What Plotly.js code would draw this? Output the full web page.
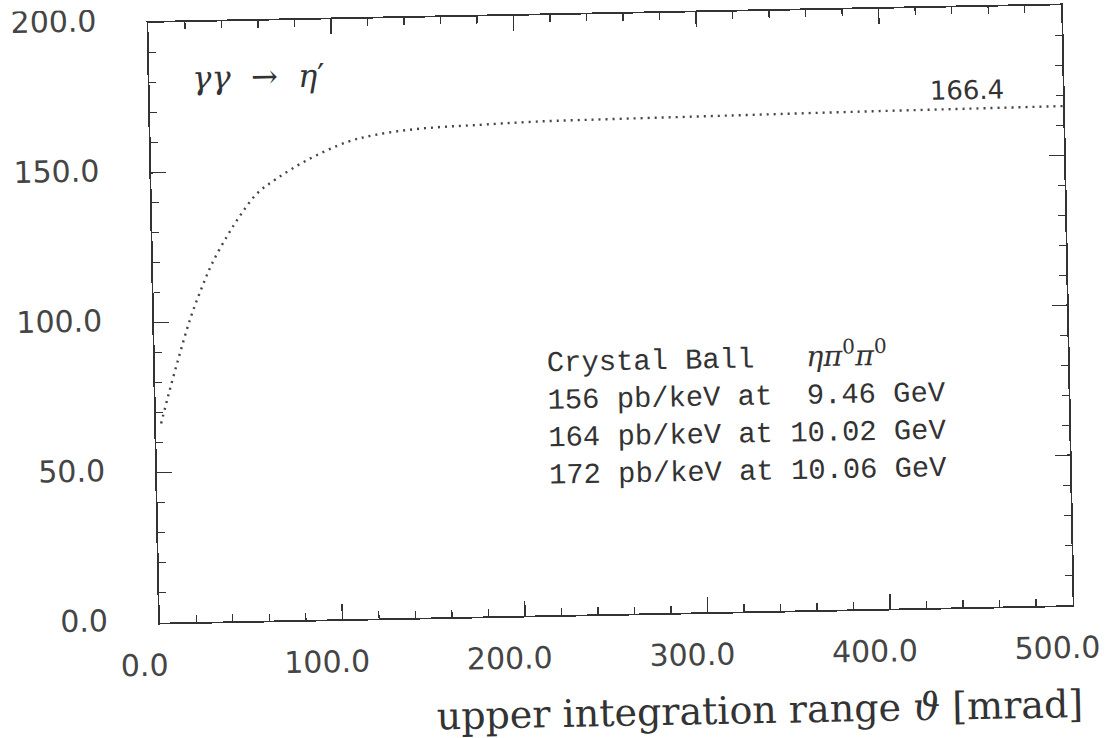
<!DOCTYPE html>
<html>
<head>
<meta charset="utf-8">
<script src="https://cdn.plot.ly/plotly-3.0.1.min.js"></script>
<style>
  html, body { margin: 0; padding: 0; background: #ffffff; }
  #chart {
    width: 1109px; height: 738px;
    transform: rotate(-1.1deg);
    transform-origin: 610.5px 313.75px;
  }
</style>
</head>
<body>
<div id="chart"></div>
<script>
// integrated cross section vs. upper integration range theta
const thetaMrad = [2.8, 7.3, 13.5, 19.9, 26.3, 32.4, 40.9, 48.4, 57.7, 68.8, 85.4,
                   107.5, 122.1, 140.4, 158.7, 177.0, 211.6, 260, 320, 380, 440, 500];
const sigmaIntegrated = [66.4, 76.3, 89.0, 101.2, 111.1, 119.4, 128.4, 135.3, 142.4, 147.3, 153.2,
                         159.0, 161.1, 162.6, 163.4, 163.8, 164.6, 165.0, 165.4, 165.8, 166.1, 166.4];
const finalValue = 166.4;

const xTickVals = [0, 100, 200, 300, 400, 500];
const xTickText = ["0.0", "100.0", "200.0", "300.0", "400.0", "500.0"];
const yTickVals = [0, 50, 100, 150, 200];
const yTickText = ["0.0", "50.0", "100.0", "150.0", "200.0"];

const reactionText = "<i>γγ</i>\u00a0\u00a0→\u00a0\u00a0<i>η</i>′";
const infoLines = [
  "Crystal\u00a0Ball\u00a0\u00a0\u00a0<span style=\"font-family:'DejaVu Serif'\"><i>ηπ</i><sup>0</sup><i>π</i><sup>0</sup></span>",
  "156\u00a0pb/keV\u00a0at\u00a0\u00a09.46\u00a0GeV",
  "164\u00a0pb/keV\u00a0at\u00a010.02\u00a0GeV",
  "172\u00a0pb/keV\u00a0at\u00a010.06\u00a0GeV"
];
const xTitle = "upper integration range <i>ϑ</i> [mrad]";

const ink = "#333333";
const tickFont = { family: "DejaVu Sans", size: 30, color: "#454545" };

const trace = {
  x: thetaMrad,
  y: sigmaIntegrated,
  mode: "lines",
  line: { color: "#444444", width: 2.4, dash: "2px,5px", shape: "spline", smoothing: 1 },
  hoverinfo: "skip"
};

const axisCommon = {
  showline: true, linecolor: ink, linewidth: 1.8,
  mirror: "allticks", ticks: "inside", tickcolor: ink, tickwidth: 1.5,
  showgrid: false, zeroline: false, tickfont: tickFont, ticklabeloverflow: "allow"
};

const annotations = [
  { x: 22.4, y: 181.3, xref: "x", yref: "y", xanchor: "left", yanchor: "middle",
    text: reactionText, showarrow: false,
    font: { family: "DejaVu Serif", size: 32, color: ink } },
  { x: 447.4, y: 172.3, xref: "x", yref: "y", xanchor: "center", yanchor: "middle",
    text: finalValue.toFixed(1), showarrow: false,
    font: { family: "DejaVu Sans", size: 26, color: ink } },
  { x: 1.012, y: -0.165, xref: "paper", yref: "paper", xanchor: "right", yanchor: "middle",
    text: xTitle, showarrow: false,
    font: { family: "DejaVu Serif", size: 38, color: ink } },
  // experiment summary block, one line per entry
  { x: 213.5, y: 66.4, xref: "x", yref: "y", xanchor: "left", yanchor: "middle", align: "left",
    text: infoLines.join("<br>"), showarrow: false,
    font: { family: "Liberation Mono", size: 28.8, color: ink } }
];

const layout = {
  width: 1109, height: 738,
  margin: { l: 153.5, r: 41.5, t: 13.75, b: 124.25 },
  paper_bgcolor: "#ffffff", plot_bgcolor: "#ffffff",
  showlegend: false,
  xaxis: Object.assign({}, axisCommon, {
    range: [0, 500], tickvals: xTickVals, ticktext: xTickText, ticklen: 15,
    minor: { dtick: 20, tick0: 0, ticks: "inside", ticklen: 7, tickcolor: ink, tickwidth: 1.3 },
    ticklabelstandoff: 15, ticklabelshift: -16
  }),
  yaxis: Object.assign({}, axisCommon, {
    range: [0, 200], tickvals: yTickVals, ticktext: yTickText, ticklen: 15,
    minor: { dtick: 10, tick0: 0, ticks: "inside", ticklen: 7, tickcolor: ink, tickwidth: 1.3 },
    ticklabelstandoff: 44, ticklabelshift: -3
  }),
  annotations: annotations
};

Plotly.newPlot("chart", [trace], layout, { displayModeBar: false, staticPlot: true });
</script>
</body>
</html>
